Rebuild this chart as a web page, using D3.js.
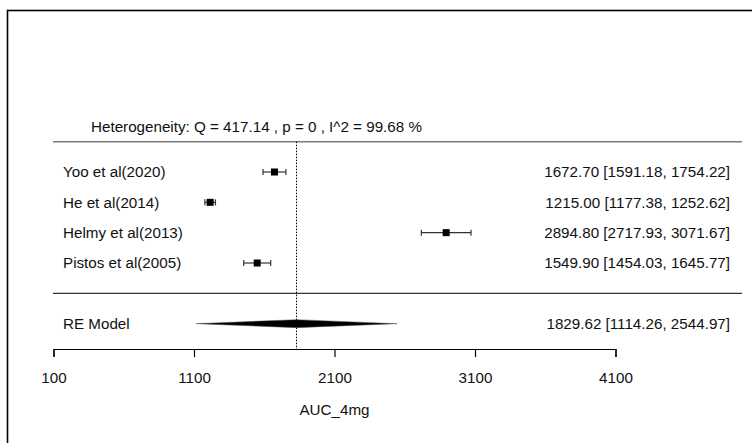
<!DOCTYPE html>
<html>
<head>
<meta charset="utf-8">
<script src="https://cdn.jsdelivr.net/npm/d3@7"></script>
<style>
  html, body { margin: 0; padding: 0; background: #fff; }
  svg { display: block; }
  text { font-family: "Liberation Sans", Arial, sans-serif; fill: #111; }
</style>
</head>
<body>
<svg id="chart" width="752" height="443"></svg>
<script>
// ---- data ----
const studies   = ["Yoo et al(2020)", "He et al(2014)", "Helmy et al(2013)", "Pistos et al(2005)"];
const estimates = [1672.70, 1215.00, 2894.80, 1549.90];
const ciLower   = [1591.18, 1177.38, 2717.93, 1454.03];
const ciUpper   = [1754.22, 1252.62, 3071.67, 1645.77];
const reLabel   = "RE Model";
const reEst     = 1829.62;
const reLower   = 1114.26;
const reUpper   = 2544.97;
const tickVals  = [100, 1100, 2100, 3100, 4100];
const xLabel    = "AUC_4mg";
const hetText   = "Heterogeneity: Q = 417.14 , p = 0 , I^2 = 99.68 %";

// ---- layout ----
const svg = d3.select("#chart");
const x = d3.scaleLinear().domain([100, 4100]).range([53.5, 615.5]);
const y = d3.scaleLinear().domain([1, 4]).range([263, 172]);
const fmt = d3.format(".2f");
const fs = "15.2px";

// outer frame
svg.append("rect").attr("x", 7.5).attr("y", 10.5).attr("width", 800).attr("height", 500)
  .attr("fill", "none").attr("stroke", "#000").attr("stroke-width", 1.6);

// heterogeneity text
svg.append("text").attr("x", 91).attr("y", y(5.5)).attr("dy", "0.35em")
  .style("font-size", fs).text(hetText);

// separator lines
svg.append("line").attr("x1", 53).attr("x2", 742).attr("y1", y(5)).attr("y2", y(5))
  .attr("stroke", "#7a7a7a").attr("stroke-width", 1.5);
svg.append("line").attr("x1", 53).attr("x2", 742).attr("y1", y(0)).attr("y2", y(0))
  .attr("stroke", "#333").attr("stroke-width", 1.3);

const axisY = 349;

// reference dotted line at RE estimate
svg.append("line").attr("x1", x(reEst)).attr("x2", x(reEst)).attr("y1", y(5)).attr("y2", axisY)
  .attr("stroke", "#000").attr("stroke-width", 1).attr("stroke-dasharray", "1.5,1.5");

// study rows
const rows = studies.map((s, i) => ({ name: s, est: estimates[i], lo: ciLower[i], hi: ciUpper[i], row: 4 - i }));
const g = svg.append("g");
rows.forEach(d => {
  const yy = y(d.row);
  g.append("text").attr("x", 63).attr("y", yy).attr("dy", "0.35em").style("font-size", fs).text(d.name);
  g.append("line").attr("x1", x(d.lo)).attr("x2", x(d.hi)).attr("y1", yy).attr("y2", yy)
    .attr("stroke", "#333").attr("stroke-width", 1.2);
  [d.lo, d.hi].forEach(v => g.append("line").attr("x1", x(v)).attr("x2", x(v))
    .attr("y1", yy - 3).attr("y2", yy + 3).attr("stroke", "#333").attr("stroke-width", 1.2));
  g.append("rect").attr("x", x(d.est) - 3.5).attr("y", yy - 3.5).attr("width", 7).attr("height", 7)
    .attr("fill", "#000");
  g.append("text").attr("x", 730).attr("y", yy).attr("dy", "0.35em").attr("text-anchor", "end")
    .style("font-size", fs).text(`${fmt(d.est)} [${fmt(d.lo)}, ${fmt(d.hi)}]`);
});

// RE model
const yr = y(-1);
svg.append("text").attr("x", 63).attr("y", yr).attr("dy", "0.35em").style("font-size", fs).text(reLabel);
svg.append("polygon")
  .attr("points", [[x(reLower), yr], [x(reEst), yr - 4], [x(reUpper), yr], [x(reEst), yr + 4]].map(p => p.join(",")).join(" "))
  .attr("fill", "#000").attr("stroke", "#555").attr("stroke-width", 0.5);
svg.append("text").attr("x", 730).attr("y", yr).attr("dy", "0.35em").attr("text-anchor", "end")
  .style("font-size", fs).text(`${fmt(reEst)} [${fmt(reLower)}, ${fmt(reUpper)}]`);

// axis
const axis = d3.axisBottom(x).tickValues(tickVals).tickFormat(d3.format("d")).tickSize(8).tickPadding(15);
const ga = svg.append("g").attr("transform", `translate(0,${axisY})`).call(axis);
ga.select(".domain").attr("stroke", "#000").attr("stroke-width", 1.2);
ga.selectAll(".tick line").attr("stroke", "#000").attr("stroke-width", 1.2);
ga.selectAll(".tick text").style("font-size", fs).style("font-family", "'Liberation Sans', Arial, sans-serif").attr("fill", "#111");

svg.append("text").attr("x", x(2100)).attr("y", 410).attr("dy", "0.35em").attr("text-anchor", "middle")
  .style("font-size", fs).text(xLabel);
</script>
</body>
</html>
